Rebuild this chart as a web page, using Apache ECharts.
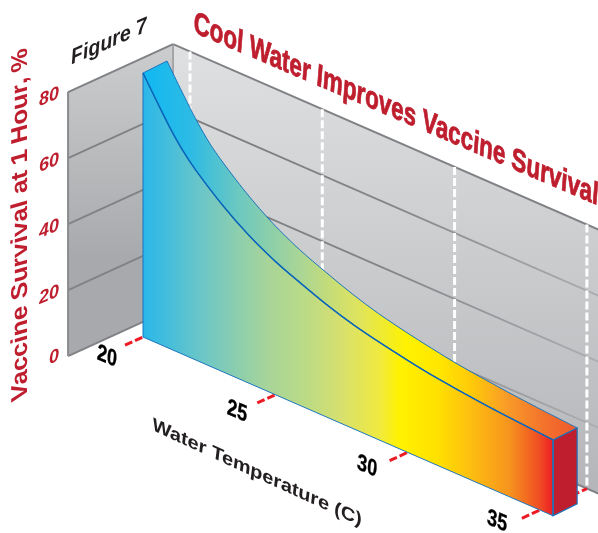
<!DOCTYPE html>
<html>
<head>
<meta charset="utf-8">
<style>html,body{margin:0;padding:0;background:#fff}#c{width:598px;height:533px}</style>
<script src="https://cdn.jsdelivr.net/npm/echarts@6/dist/echarts.min.js"></script>
</head>
<body>
<div id="c"></div>
<script>
const temperatures = [20, 20.5, 21, 21.5, 22, 23, 24, 25, 26, 27, 28, 29, 30, 31, 32, 33, 34, 35, 35.5];
const survival = [80, 73.5, 67.2, 61.8, 57.5, 50.5, 44.8, 40.4, 37, 33.9, 31.4, 29.5, 27.9, 26.5, 25.5, 24.6, 23.9, 23.3, 23];
const tempTicks = [20, 25, 30, 35];
const survivalTicks = [0, 20, 40, 60, 80];
const titleText = 'Cool Water Improves Vaccine Survival';
const figureText = 'Figure 7';
const xName = 'Water Temperature (C)';
const yName = 'Vaccine Survival at 1 Hour, %';

const SHEAR = 0.436, WALL = 0.457, BACK = 47, FRONT = -58, THICK = 24, THICK_Y = 12, WALL_T = 19.36;
const RED = '#be1e2d', BLUE = '#1b75bc', DARK = '#0a66bb', GRAY = '#808285';
const G = echarts.graphic.LinearGradient;

function project(api, t, v, d) {
  const c = api.coord([t, v]), o = api.coord([20, 0]);
  return [c[0] + d, c[1] + SHEAR * (c[0] - o[0]) - WALL * d];
}
function spline(pts) {
  let s = '';
  for (let i = 0; i < pts.length - 1; i++) {
    const p0 = pts[Math.max(i - 1, 0)], p1 = pts[i], p2 = pts[i + 1], p3 = pts[Math.min(i + 2, pts.length - 1)];
    s += 'C' + (p1[0] + (p2[0] - p0[0]) / 6) + ' ' + (p1[1] + (p2[1] - p0[1]) / 6) + ' ' +
      (p2[0] - (p3[0] - p1[0]) / 6) + ' ' + (p2[1] - (p3[1] - p1[1]) / 6) + ' ' + p2[0] + ' ' + p2[1];
  }
  return s;
}
function M(p) { return 'M' + p[0] + ' ' + p[1]; }
function L(p) { return 'L' + p[0] + ' ' + p[1]; }
function poly(points, style) { return { type: 'polygon', shape: { points }, style }; }
function line(a, b, style) {
  return { type: 'line', shape: { x1: a[0], y1: a[1], x2: b[0], y2: b[1] }, style: Object.assign({ fill: null }, style) };
}
// affine text: (a,b) image of the glyph x axis, (c,d) image of the glyph y axis (downward)
function affineText(text, x, y, a, b, c, d, font, fill, weight) {
  const E = (a + d) / 2, F = (a - d) / 2, Gg = (b + c) / 2, H = (b - c) / 2;
  const Q = Math.hypot(E, H), R = Math.hypot(F, Gg);
  const a1 = Math.atan2(Gg, F), a2 = Math.atan2(H, E);
  const theta = (a2 - a1) / 2, phi = (a2 + a1) / 2;
  const style = { text, x: 0, y: 0, font, fill, textAlign: 'center', textVerticalAlign: 'middle' };
  if (weight) { style.stroke = fill; style.lineWidth = weight; }
  return {
    type: 'group', x, y, rotation: -phi,
    children: [{
      type: 'group', scaleX: Q + R, scaleY: Q - R,
      children: [{ type: 'text', rotation: -theta, style }]
    }]
  };
}

function renderWalls(params, api) {
  if (params.dataIndex > 0) return null;
  const P = (t, v, d) => project(api, t, v, d), kids = [];
  const endT = 35.8;
  kids.push(poly([P(WALL_T, 80, BACK), P(endT, 80, BACK), P(endT, 0, BACK), P(WALL_T, 0, BACK)], {
    fill: new G(0, 44, 0, 500, [{ offset: 0, color: '#dfe0e1' }, { offset: 1, color: '#b4b5b8' }], true)
  }));
  kids.push(poly([P(WALL_T, 80, BACK), P(WALL_T, 80, FRONT), P(WALL_T, 0, FRONT), P(WALL_T, 0, BACK)], {
    fill: new G(0, 50, 0, 260, [{ offset: 0, color: '#cbcccd' }, { offset: 1, color: '#a7a9ac' }], true)
  }));
  const fade = new G(173, 0, 600, 0, [{ offset: 0, color: '#7c7d80' }, { offset: 0.5, color: '#848588' }, { offset: 1, color: '#acadb0' }], true);
  survivalTicks.forEach(v => {
    const strong = v === 80 || v === 0;
    kids.push(line(P(WALL_T, v, BACK), P(endT, v, BACK), { stroke: strong ? GRAY : fade, lineWidth: strong ? 2 : 1.8 }));
    kids.push(line(P(WALL_T, v, FRONT), P(WALL_T, v, BACK), { stroke: GRAY, lineWidth: strong ? 2 : 1.8 }));
  });
  kids.push(line(P(WALL_T, 0, FRONT), P(WALL_T, 80, FRONT), { stroke: '#8a8b8e', lineWidth: 2 }));
  kids.push(line(P(WALL_T, 0, BACK), P(WALL_T, 80, BACK), { stroke: '#96979a', lineWidth: 1.5 }));
  tempTicks.forEach(t => {
    kids.push(line(P(t, 80, BACK), P(t, 0, BACK), { stroke: '#fff', lineWidth: 3, lineDash: [8, 3] }));
    kids.push(line(P(t, 0, -18), P(t, 0, BACK), { stroke: '#ed1c24', lineWidth: 3, lineDash: [8, 3] }));
  });
  return { type: 'group', children: kids };
}

function renderSolid(params, api) {
  if (params.dataIndex > 0) return null;
  const P = (t, v, d) => project(api, t, v, d);
  const front = temperatures.map((t, i) => P(t, survival[i], 0));
  const back = front.map(p => [p[0] + THICK, p[1] - THICK_Y]);
  const last = temperatures[temperatures.length - 1];
  const b0 = P(20, 0, 0), b1 = P(last, 0, 0);
  const b2 = [b1[0] + THICK, b1[1] - THICK_Y];
  const f0 = front[0], fe = front[front.length - 1], be = back[back.length - 1];
  const backRev = back.slice().reverse();
  const topPath = M(f0) + spline(front) + L(be) + spline(backRev) + 'Z';
  const frontPath = M(f0) + spline(front) + L(b1) + L(b0) + 'Z';
  const x0 = f0[0], x1 = fe[0], x2 = be[0];
  const frontFill = new G(x0, 0, x1, 0, [
    { offset: 0, color: '#29b7ea' }, { offset: 0.14, color: '#6ac6c8' }, { offset: 0.3, color: '#a6d49a' },
    { offset: 0.4, color: '#bcdb85' }, { offset: 0.48, color: '#d6e06f' }, { offset: 0.577, color: '#f0ea40' },
    { offset: 0.625, color: '#fff200' }, { offset: 0.72, color: '#ffe000' }, { offset: 0.795, color: '#fec010' },
    { offset: 0.893, color: '#f7941e' }, { offset: 0.966, color: '#f04e23' }, { offset: 1, color: '#ed1c24' }], true);
  const topFill = new G(x0, 0, x2, 0, [
    { offset: 0, color: '#10b8f2' }, { offset: 0.11, color: '#2dbbe5' }, { offset: 0.22, color: '#6cc8c0' },
    { offset: 0.36, color: '#a9d596' }, { offset: 0.5, color: '#e0e45c' }, { offset: 0.607, color: '#fff200' },
    { offset: 0.683, color: '#ffe600' }, { offset: 0.76, color: '#ffc80a' }, { offset: 0.837, color: '#f99c28' },
    { offset: 0.93, color: '#f36f2c' }, { offset: 1, color: '#f05a2c' }], true);
  const kids = [
    { type: 'path', shape: { pathData: topPath }, style: { fill: topFill, stroke: BLUE, lineWidth: 1 } },
    { type: 'path', shape: { pathData: frontPath }, style: { fill: frontFill, stroke: BLUE, lineWidth: 1 } },
    poly([fe, be, b2, b1], { fill: RED, stroke: BLUE, lineWidth: 1.2 }),
    { type: 'path', shape: { pathData: M(f0) + spline(front) }, style: { fill: null, stroke: DARK, lineWidth: 1.5 } },
    line(fe, b1, { stroke: BLUE, lineWidth: 1.2 })
  ];
  return { type: 'group', children: kids };
}

function renderText(params, api) {
  if (params.dataIndex > 0) return null;
  const kids = [];
  const P = (t, v, d) => project(api, t, v, d);
  kids.push(affineText(titleText, 396, 110, 0.72, 0.72 * 0.428, -0.08, 1, 'bold 31px "Liberation Sans"', RED, 0.8));
  kids.push(affineText(figureText, 109, 42, 0.93, -0.41, 0.1, 1, 'italic bold 21px "Liberation Sans"', '#231f20'));
  kids.push(affineText(xName, 257, 473, 1.09, 0.46 * 1.09, -0.12, 1, 'bold 18px "Liberation Sans"', '#231f20'));
  kids.push(affineText(yName, 20.5, 224.5, 0, -1.1, 1, -0.28, 'bold 23px "Liberation Sans"', RED));
  survivalTicks.forEach(v => {
    const p = P(WALL_T, v, FRONT);
    kids.push(affineText(String(v), p[0] + (v === 0 ? -14 : -19), p[1] + (v === 0 ? 1 : 5), 1, -0.42, 0.05, 1, 'italic bold 18px "Liberation Sans"', RED));
  });
  tempTicks.forEach(t => {
    const p = P(t, 0, -18);
    const dt = t - 20;
    kids.push(affineText(String(t), p[0] - 18 - dt * 0.45, p[1] + 11.5 - dt * 0.55, 0.78, 0.78 * 0.42, -0.1, 1, 'bold 23px "Liberation Sans"', '#000', 0.3));
  });
  return { type: 'group', children: kids };
}

const chart = echarts.init(document.getElementById('c'), null, { renderer: 'canvas' });
const rows = temperatures.map((t, i) => [t, survival[i]]);
const pxPerDeg = 26.46;
chart.setOption({
  animation: false,
  grid: { left: 143 - 5 * pxPerDeg, width: 21 * pxPerDeg, top: 73, height: 264 },
  xAxis: { type: 'value', min: 15, max: 36, show: false },
  yAxis: { type: 'value', min: 0, max: 80, show: false },
  series: [
    { name: 'walls', type: 'custom', data: rows, renderItem: renderWalls, silent: true, z: 1 },
    { name: 'Vaccine survival', type: 'custom', data: rows, renderItem: renderSolid, silent: true, z: 2 },
    { name: 'labels', type: 'custom', data: rows, renderItem: renderText, silent: true, z: 3 }
  ]
});
</script>
</body>
</html>
